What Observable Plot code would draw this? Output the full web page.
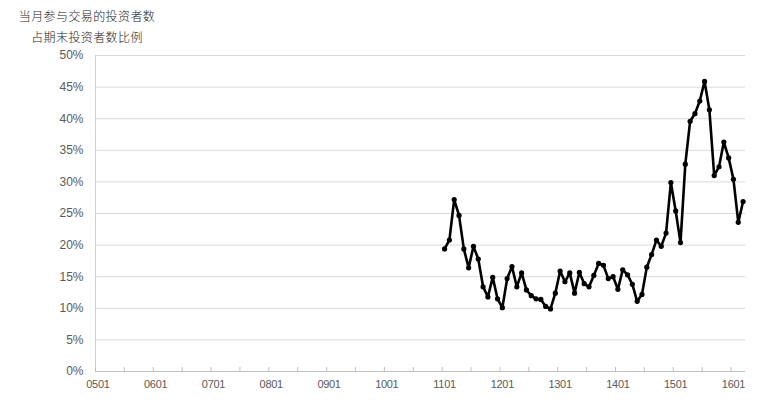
<!DOCTYPE html>
<html>
<head>
<meta charset="utf-8">
<script src="https://cdn.jsdelivr.net/npm/d3@7"></script>
<script src="https://cdn.jsdelivr.net/npm/@observablehq/plot@0.6"></script>
<style>
  html, body { margin: 0; padding: 0; background: #fff; }
  #wrap { width: 772px; }
  #title {
    height: 45px; width: 140px; margin-left: 17px; padding-top: 5px; box-sizing: border-box;
    font-family: "Noto Sans CJK SC", sans-serif; font-size: 12px; line-height: 21px; font-weight: 300;
    color: #222; text-align: center; letter-spacing: 0.4px;
  }
  svg { display: block; }
  .xlab text { letter-spacing: -0.3px; }
</style>
</head>
<body>
<div id="wrap">
  <div id="title">当月参与交易的投资者数<br>占期末投资者数比例</div>
  <div id="chart"></div>
</div>
<script>
// categories: monthly, 0501 .. 1603 (YYMM)
const years = ["05","06","07","08","09","10","11","12","13","14","15","16"];
const monthNums = ["01","02","03","04","05","06","07","08","09","10","11","12"];
const lastCategory = "1603";
const categories = [];
for (const y of years) for (const m of monthNums) {
  const c = y + m;
  if (c <= lastCategory) categories.push(c);
}

// tick labels shown on the x axis
const tickLabels = ["0501","0601","0701","0801","0901","1001","1101","1201","1301","1401","1501","1601"];

// series: months with data, and values (%)
const seriesMonths = [
  "1101","1102","1103","1104","1105","1106","1107","1108","1109","1110","1111","1112",
  "1201","1202","1203","1204","1205","1206","1207","1208","1209","1210","1211","1212",
  "1301","1302","1303","1304","1305","1306","1307","1308","1309","1310","1311","1312",
  "1401","1402","1403","1404","1405","1406","1407","1408","1409","1410","1411","1412",
  "1501","1502","1503","1504","1505","1506","1507","1508","1509","1510","1511","1512",
  "1601","1602","1603"
];
const seriesValues = [
  19.4, 20.8, 27.2, 24.7, 19.4, 16.4, 19.8, 17.8, 13.4, 11.8, 14.9, 11.5,
  10.1, 14.7, 16.6, 13.4, 15.6, 12.9, 12.0, 11.5, 11.4, 10.3, 9.9, 12.4,
  15.9, 14.2, 15.6, 12.4, 15.7, 13.9, 13.4, 15.2, 17.1, 16.8, 14.7, 15.0,
  13.0, 16.1, 15.3, 13.8, 11.1, 12.2, 16.5, 18.5, 20.8, 19.8, 21.9, 29.9,
  25.4, 20.4, 32.8, 39.6, 40.8, 42.8, 45.9, 41.4, 31.0, 32.4, 36.3, 33.8,
  30.4, 23.6, 26.9
];

// y ticks (%)
const yTicks = [0, 5, 10, 15, 20, 25, 30, 35, 40, 45, 50];

const data = seriesMonths.map((m, i) => ({idx: categories.indexOf(m), value: seriesValues[i]}));
const xDomain = [-0.5, categories.length - 0.5];
const labelIdx = tickLabels.map(t => categories.indexOf(t));
const boundaryTicks = d3.range(xDomain[0], xDomain[1], 6);

const plot = Plot.plot({
  width: 772,
  height: 358,
  marginLeft: 95,
  marginRight: 27,
  marginTop: 10,
  marginBottom: 32,
  style: { fontFamily: "'Liberation Sans', Arial, sans-serif", fontSize: "12px", color: "#595959", background: "#fff" },
  x: { domain: xDomain },
  y: { domain: [0, 50] },
  marks: [
    Plot.ruleY(yTicks.slice(1), { stroke: "#d9d9d9", strokeWidth: 1 }),
    Plot.ruleX([xDomain[0]], { stroke: "#d0d0d0", strokeWidth: 1 }),
    Plot.ruleY([0], { stroke: "#bfbfbf", strokeWidth: 1 }),
    Plot.axisY({ ticks: yTicks, tickSize: 0, tickPadding: 12, tickFormat: d => d + "%", label: null, fill: "#595959" }),
    Plot.axisX({ ticks: boundaryTicks, tickSize: 4, dy: -4, tickFormat: () => "", label: null, stroke: "#bfbfbf" }),
    Plot.axisX({ ticks: labelIdx, tickSize: 0, tickPadding: 9, tickFormat: i => categories[i], label: null,
                 className: "xlab",
                 fontFamily: "'Liberation Sans Narrow', 'Liberation Sans', Arial, sans-serif", fontSize: 11, fill: "#595959" }),
    Plot.line(data, { x: "idx", y: "value", stroke: "#000", strokeWidth: 2.6, strokeLinejoin: "round" }),
    Plot.dot(data, { x: "idx", y: "value", r: 2.6, fill: "#000", stroke: "none" })
  ]
});
document.getElementById("chart").appendChild(plot);
</script>
</body>
</html>
